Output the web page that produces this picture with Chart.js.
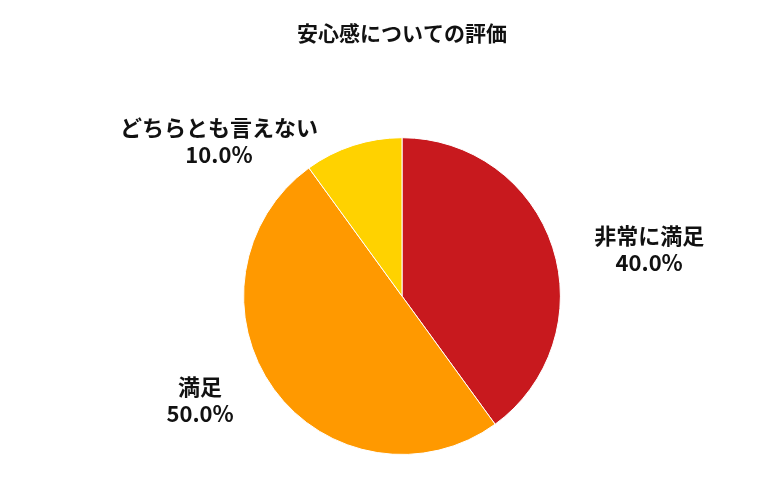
<!DOCTYPE html>
<html><head><meta charset="utf-8">
<script src="https://cdn.jsdelivr.net/npm/chart.js@4"></script>
<style>html,body{margin:0;background:#fff}#w{width:780px;height:500px}</style>
</head><body><div id="w"><canvas id="c"></canvas></div>
<script>
const categories = ["非常に満足", "満足", "どちらとも言えない"];
const values = [40.0, 50.0, 10.0];
const colors = ["#C8191E", "#FF9900", "#FFD200"];
const FONT = '"Noto Sans CJK JP", "Noto Sans", sans-serif';
const labelPlugin = {
  id: 'outLabels',
  afterDraw(chart) {
    const ctx = chart.ctx;
    const total = values.reduce((a, b) => a + b, 0);
    chart.getDatasetMeta(0).data.forEach((arc, i) => {
      const mid = (arc.startAngle + arc.endAngle) / 2;
      const r = arc.outerRadius + 10;
      const ex = arc.x + Math.cos(mid) * r, ey = arc.y + Math.sin(mid) * r;
      const lines = [categories[i], (values[i] / total * 100).toFixed(1) + '%'];
      ctx.save();
      ctx.font = 'bold 22px ' + FONT;
      ctx.fillStyle = '#111';
      ctx.textAlign = 'center'; ctx.textBaseline = 'middle';
      const mw = Math.max(...lines.map(l => ctx.measureText(l).width));
      const cx = ex + Math.sign(Math.cos(mid)) * (mw / 2 + 32);
      const lh = 27;
      lines.forEach((l, k) => ctx.fillText(l, cx, ey + (k - 0.3) * lh));
      ctx.restore();
    });
  }
};
new Chart(document.getElementById('c'), {
  type: 'pie',
  data: { labels: categories, datasets: [{ data: values, backgroundColor: colors, borderColor: '#fff', borderWidth: 1 }] },
  options: {
    responsive: true, maintainAspectRatio: false, animation: false,
    layout: { padding: { top: 0, bottom: 45, left: 24, right: 0 } },
    plugins: {
      legend: { display: false }, tooltip: { enabled: false },
      title: { display: true, text: '安心感についての評価', color: '#111',
        font: { family: FONT, size: 21, weight: 'bold' }, padding: { top: 20, bottom: 92 } }
    }
  },
  plugins: [labelPlugin]
});
</script></body></html>
